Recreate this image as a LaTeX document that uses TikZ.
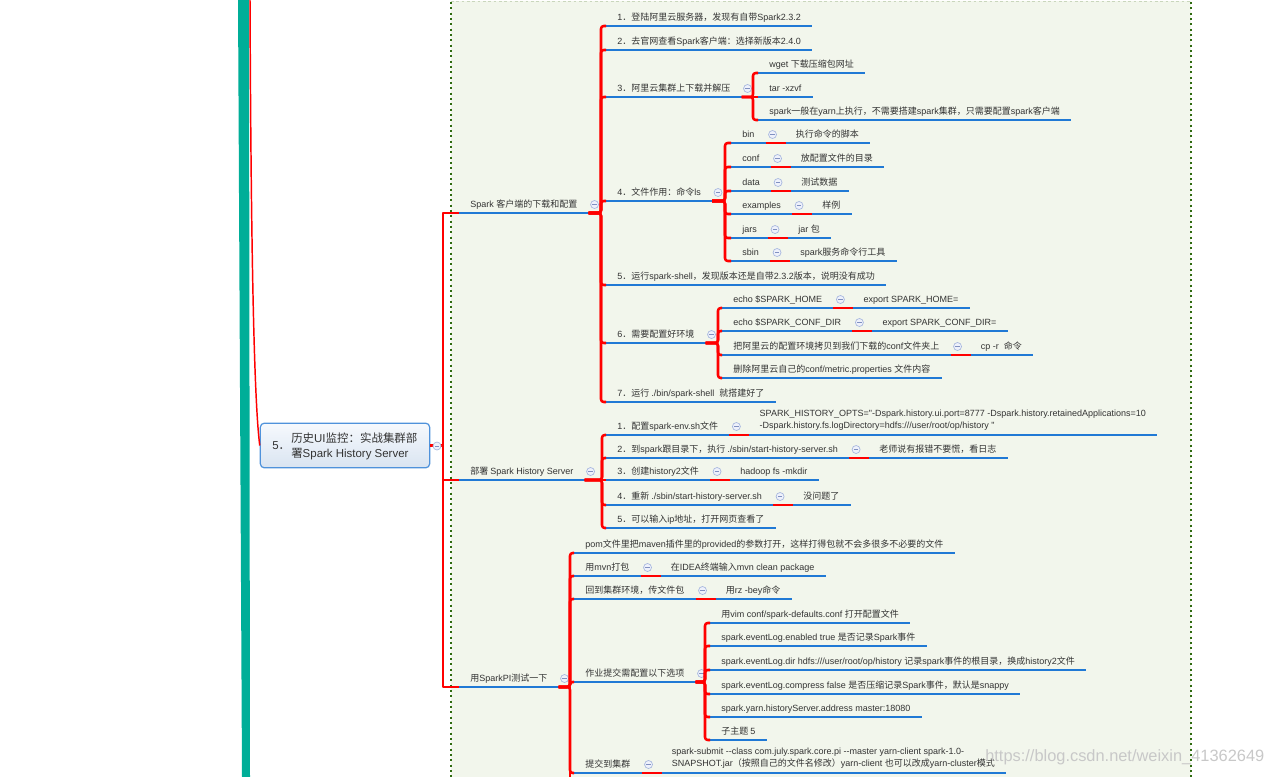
\documentclass[tikz,border=0pt]{standalone}
\usepackage{fontspec}
\setmainfont{Liberation Sans}[Ligatures=TeXOff]
\newfontfamily\latf{Liberation Sans}[Ligatures=TeXOff]
\newfontfamily\cjkf{Noto Sans CJK SC}
\usetikzlibrary{calc}
\newXeTeXintercharclass\mycjk
\newcount\mmc
\mmc="3000 \loop\XeTeXcharclass\mmc=\mycjk \advance\mmc 1 \ifnum\mmc<"3040 \repeat
\mmc="4E00 \loop\XeTeXcharclass\mmc=\mycjk \advance\mmc 1 \ifnum\mmc<"A000 \repeat
\mmc="FF00 \loop\XeTeXcharclass\mmc=\mycjk \advance\mmc 1 \ifnum\mmc<"FFF0 \repeat
\XeTeXinterchartoks 0 \mycjk = {\cjkf}
\XeTeXinterchartoks 4095 \mycjk = {\cjkf}
\XeTeXinterchartoks \mycjk 0 = {\latf}
\XeTeXinterchartoks 4095 0 = {\latf}
\XeTeXinterchartokenstate=1

\definecolor{cRed}{HTML}{FF0000}
\definecolor{cBlue}{HTML}{2079D5}
\definecolor{cTeal}{HTML}{00AE98}
\definecolor{cFrame}{HTML}{F2F6EC}
\definecolor{cDot}{HTML}{2F6B10}
\definecolor{cDotL}{HTML}{C9D6BC}
\definecolor{cTxt}{HTML}{333333}
\definecolor{cIconB}{HTML}{A6B6DE}
\definecolor{cIconF}{HTML}{EEF1FB}
\definecolor{cIconM}{HTML}{8090C0}
\definecolor{cRootB}{HTML}{4F92DB}
\definecolor{cRootT}{HTML}{F6F9FD}
\definecolor{cRootD}{HTML}{D9E4F1}
\definecolor{cMark}{HTML}{C8C8C8}

\tikzset{
  mmt/.style={anchor=base west, inner sep=0pt, text=cTxt, font=\fontsize{6.75pt}{8.6pt}\selectfont},
  roottxt/.style={inner sep=0pt, text=black!80, font=\fontsize{8.6pt}{11.25pt}\selectfont},
  blueln/.style={draw=cBlue, line width=1.6pt},
  redln/.style={draw=cRed, line width=1.9pt, line join=round},
  mmicon/.style={circle, draw=cIconB, fill=cIconF, line width=0.5pt, minimum size=6pt, inner sep=0pt,
    path picture={\draw[cIconM, line width=0.5pt] ([xshift=-1.6pt]path picture bounding box.center) -- ([xshift=1.6pt]path picture bounding box.center);}},
  rootbox/.style={rounded corners=3pt, draw=cRootB, line width=0.9pt, top color=cRootT, bottom color=cRootD,
    minimum width=127pt, minimum height=33.5pt, inner sep=0pt},
}

\newcommand{\mmleaf}[4]{%
  \coordinate (#1S) at (#2,#3);
  \node[mmt] (#1) at (#2+11,#3-5.5) {#4};
  \coordinate (#1K) at ($(#1.east)+(11,0)$);
  \coordinate (#1E) at (#1K |- #1S);
  \draw[blueln] (#1S) -- (#1E);
}
\newcommand{\mmpar}[4]{%
  \mmleaf{#1}{#2}{#3}{#4}
  \node[mmicon] (#1I) at ($(#1E)+(6,-8.5)$) {};
}
\newcommand{\mmpair}[5]{%
  \mmleaf{#1}{#2}{#3}{#4}
  \coordinate (#1R) at ($(#1E)+(20,0)$);
  \draw[redln] (#1E) -- (#1R);
  \node[mmicon] (#1I) at ($(#1E)+(7,-8.5)$) {};
  \node[mmt] (#1V) at ($(#1R)+(10,-5.5)$) {#5};
  \coordinate (#1VK) at ($(#1V.east)+(11,0)$);
  \coordinate (#1VE) at (#1VK |- #1S);
  \draw[blueln] (#1R) -- (#1VE);
}
\newcommand{\mmpairtwo}[5]{%
  \mmleaf{#1}{#2}{#3}{#4}
  \coordinate (#1R) at ($(#1E)+(20,0)$);
  \draw[redln] (#1E) -- (#1R);
  \node[mmicon] (#1I) at ($(#1E)+(7,-8.5)$) {};
  \node[mmt, anchor=south west, align=left] (#1V) at ($(#1R)+(10,-4.5)$) {#5};
  \coordinate (#1VK) at ($(#1V.east)+(11,0)$);
  \coordinate (#1VE) at (#1VK |- #1S);
  \draw[blueln] (#1R) -- (#1VE);
}
\newcommand{\mmkids}[4][rounded corners=2pt]{%
  \foreach \kid in {#4}{%
    \draw[redln,#1] (#2E) -- (#2E -| #3,0) -- (\kid S -| #3,0) -- (\kid S);
  }%
}
\newcommand{\mmstraight}[2]{\draw[redln] (#1E) -- (#2S);}

\begin{document}
\begin{tikzpicture}[x=0.75pt,y=-0.75pt]
\path[use as bounding box] (0,0) rectangle (1275,776);
\clip (0,0) rectangle (1275,776);

% frame
\fill[cFrame] (451,1) rectangle (1191,800);
\draw[cDot, line width=1.8pt, dash pattern=on 1.6pt off 2.4pt] (451,2) -- (451,800) (1191,2) -- (1191,800);
\draw[cDotL, line width=0.6pt, dash pattern=on 2pt off 2pt] (451,1) -- (1191,1);

% teal bar
\fill[cTeal] (238,-1) -- (249,-1) -- (250,777) -- (242,777) -- cycle;

% root
\node[rootbox] (root) at (345,445.5) {};
\node[roottxt, anchor=west] (rootnum) at (272,446) {5．};
\node[roottxt, anchor=west, align=left] (roottext) at (291,446.5) {历史UI监控：实战集群部\\署Spark History Server};
\coordinate (rootin) at (250,-2);
\draw[cRed, line width=1.1pt] (rootin) .. controls (251,250) and (254,400) .. (root.west);
\coordinate (rootE) at (root.east);

% level 1
\mmpar{nA}{459}{213}{Spark 客户端的下载和配置}
\mmpar{nB}{459}{480}{部署 Spark History Server}
\mmpar{nC}{459}{687}{用SparkPI测试一下}
\mmkids[sharp corners]{root}{443}{nA,nB,nC}
\node[mmicon] (rootI) at (437,446) {};

% branch A
\mmleaf{a1}{606}{26}{1．登陆阿里云服务器，发现有自带Spark2.3.2}
\mmleaf{a2}{606}{50}{2．去官网查看Spark客户端：选择新版本2.4.0}
\mmpar{a3}{606}{97}{3．阿里云集群上下载并解压}
\mmleaf{a3a}{758}{73}{wget 下载压缩包网址}
\mmleaf{a3b}{758}{97}{tar -xzvf}
\mmleaf{a3c}{758}{120}{spark一般在yarn上执行，不需要搭建spark集群，只需要配置spark客户端}
\mmkids{a3}{753}{a3a,a3c}
\mmstraight{a3}{a3b}
\mmpar{a4}{606}{201}{4．文件作用：命令ls}
\mmpair{a4a}{731}{143}{bin}{执行命令的脚本}
\mmpair{a4b}{731}{167}{conf}{放配置文件的目录}
\mmpair{a4c}{731}{191}{data}{测试数据}
\mmpair{a4d}{731}{214}{examples}{样例}
\mmpair{a4e}{731}{238}{jars}{jar 包}
\mmpair{a4f}{731}{261}{sbin}{spark服务命令行工具}
\mmkids{a4}{725}{a4a,a4b,a4c,a4d,a4e,a4f}
\mmleaf{a5}{606}{285}{5．运行spark-shell，发现版本还是自带2.3.2版本，说明没有成功}
\mmpar{a6}{606}{343}{6．需要配置好环境}
\mmpair{a6a}{722}{308}{echo \$SPARK\_HOME}{export SPARK\_HOME=}
\mmpair{a6b}{722}{331}{echo \$SPARK\_CONF\_DIR}{export SPARK\_CONF\_DIR=}
\mmpair{a6c}{722}{355}{把阿里云的配置环境拷贝到我们下载的conf文件夹上}{cp -r\ \ 命令}
\mmleaf{a6d}{722}{378}{删除阿里云自己的conf/metric.properties 文件内容}
\mmkids{a6}{718}{a6a,a6b,a6c,a6d}
\mmleaf{a7}{606}{402}{7．运行 ./bin/spark-shell\ \ 就搭建好了}
\mmkids{nA}{601}{a1,a2,a3,a4,a5,a6,a7}

% branch B
\mmpairtwo{b1}{606}{435}{1．配置spark-env.sh文件}{SPARK\_HISTORY\_OPTS="-Dspark.history.ui.port=8777 -Dspark.history.retainedApplications=10\\-Dspark.history.fs.logDirectory=hdfs:///user/root/op/history "}
\mmpair{b2}{606}{458}{2．到spark跟目录下，执行 ./sbin/start-history-server.sh}{老师说有报错不要慌，看日志}
\mmpair{b3}{606}{480}{3．创建history2文件}{hadoop fs -mkdir}
\mmpair{b4}{606}{505}{4．重新 ./sbin/start-history-server.sh}{没问题了}
\mmleaf{b5}{606}{528}{5．可以输入ip地址，打开网页查看了}
\mmkids{nB}{602}{b1,b2,b4,b5}
\mmstraight{nB}{b3}

% branch C
\mmleaf{c1}{574}{553}{pom文件里把maven插件里的provided的参数打开，这样打得包就不会多很多不必要的文件}
\mmpair{c2}{574}{576}{用mvn打包}{在IDEA终端输入mvn clean package}
\mmpair{c3}{574}{599}{回到集群环境，传文件包}{用rz -bey命令}
\mmpar{c4}{574}{682}{作业提交需配置以下选项}
\mmleaf{c4a}{710}{623}{用vim conf/spark-defaults.conf 打开配置文件}
\mmleaf{c4b}{710}{646}{spark.eventLog.enabled true 是否记录Spark事件}
\mmleaf{c4c}{710}{670}{spark.eventLog.dir hdfs:///user/root/op/history 记录spark事件的根目录，换成history2文件}
\mmleaf{c4d}{710}{694}{spark.eventLog.compress false 是否压缩记录Spark事件，默认是snappy}
\mmleaf{c4e}{710}{717}{spark.yarn.historyServer.address master:18080}
\mmleaf{c4f}{710}{740}{子主题 5}
\mmkids{c4}{705}{c4a,c4b,c4c,c4d,c4e,c4f}
\mmpairtwo{c5}{574}{773}{提交到集群}{spark-submit --class com.july.spark.core.pi --master yarn-client spark-1.0-\\SNAPSHOT.jar（按照自己的文件名修改）yarn-client 也可以改成yarn-cluster模式}
\mmkids{nC}{570}{c1,c2,c3,c4,c5}
\coordinate (cmore) at (570,800);
\draw[redln] (nCE -| 570,0) -- (cmore);

% watermark
\node[font=\latf\fontsize{12.3pt}{14pt}\selectfont, text=cMark, anchor=west, inner sep=0pt] (mark) at (985,757) {https://blog.csdn.net/weixin\_41362649};
\end{tikzpicture}
\end{document}
